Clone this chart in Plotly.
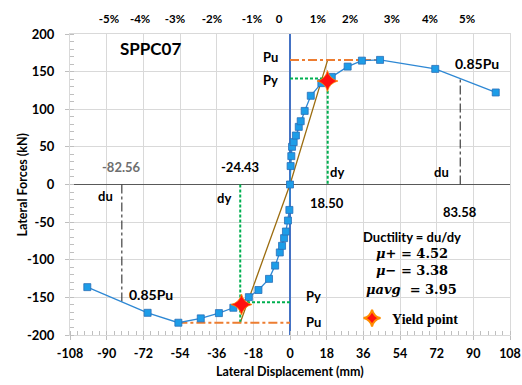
import plotly.graph_objects as go

# ---- data ----
disp_neg = [-99.5, -69.9, -54.8, -43.8, -34.9, -27.8, -20.2, -15.5, -10.3, -7.3,
            -5.0, -3.9, -2.9, -2.0, -1.0, -0.3]
force_neg = [-136.4, -170.5, -183.7, -177.9, -170.9, -163.8, -149.7, -140.2, -125.4, -107.8,
             -90.3, -81.5, -71.3, -62.5, -47.9, -33.8]
disp_pos = [0.0, 0.3, 0.65, 1.0, 1.8, 2.9, 4.3, 5.25, 7.2, 10.2, 15.4, 20.5, 28.3,
            35.3, 44.2, 71.3, 101.0]
force_pos = [0.0, 24.5, 37.7, 50.1, 56.3, 65.1, 76.6, 84.1, 97.8, 117.9, 134.7, 143.0,
             156.7, 164.6, 165.6, 153.6, 122.3]

dy_pos, dy_neg = 18.50, -24.43
du_pos, du_neg = 83.58, -82.56
pu_pos, pu_neg = 165.6, -183.7
py_pos, py_neg = 140.8, -156.6
d_pu_pos, d_pu_neg = 44.2, -54.8
yield_x = [18.4, -23.8]
yield_y = [137.5, -159.5]

drift_pos = [-88.9, -73.6, -56.5, -38.3, -18.7, -5.4, 13.7, 29.5, 50.0, 68.7, 86.9]
drift_labels = ["-5%", "-4%", "-3%", "-2%", "-1%", "0", "1%", "2%", "3%", "4%", "5%"]

x_ticks = [-108, -90, -72, -54, -36, -18, 0, 18, 36, 54, 72, 90, 108]
y_ticks = [-200, -150, -100, -50, 0, 50, 100, 150, 200]

FONT = "Lato"
fig = go.Figure()

# bilinear idealisation
fig.add_trace(go.Scatter(x=[dy_neg, 0, dy_pos], y=[pu_neg, 0, pu_pos], mode="lines",
                         line=dict(color="#9C6D10", width=1.3), showlegend=False, hoverinfo="skip"))
# green dotted dy/Py lines
fig.add_trace(go.Scatter(x=[0, dy_pos, dy_pos, None, 0, dy_neg, None, dy_neg, dy_neg],
                         y=[py_pos, py_pos, 0, None, py_neg, py_neg, None, 0, pu_neg],
                         mode="lines", line=dict(color="#00B050", width=2, dash="3px,2px"),
                         showlegend=False, hoverinfo="skip"))
# orange Pu lines
fig.add_trace(go.Scatter(x=[0, d_pu_pos, None, d_pu_neg, 0],
                         y=[pu_pos, pu_pos, None, pu_neg, pu_neg],
                         mode="lines", line=dict(color="#ED7D31", width=2, dash="dashdot"),
                         showlegend=False, hoverinfo="skip"))
# du lines
fig.add_trace(go.Scatter(x=[du_pos, du_pos, None, du_neg, du_neg],
                         y=[0, py_pos, None, 0, py_neg],
                         mode="lines", line=dict(color="#404040", width=1.2, dash="dashdot"),
                         showlegend=False, hoverinfo="skip"))
# envelope
fig.add_trace(go.Scatter(x=disp_neg + disp_pos, y=force_neg + force_pos, mode="lines+markers",
                         line=dict(color="#2E88D4", width=1.3),
                         marker=dict(symbol="square", size=7, color="#1D9DE8",
                                     line=dict(color="#2A6FB8", width=0.8)),
                         showlegend=False))
# yield points
fig.add_trace(go.Scatter(x=yield_x, y=yield_y, mode="markers", name="Yield point",
                         marker=dict(symbol="star-diamond", size=15, color="#FF1010",
                                     line=dict(color="#FF8C00", width=0.8)),
                         showlegend=True))
# dummy trace for top axis
fig.add_trace(go.Scatter(x=[None], y=[None], xaxis="x2", showlegend=False, hoverinfo="skip"))

bold = dict(family=FONT, size=13, color="#000000", weight="bold")

fig.update_layout(
    width=522, height=385,
    margin=dict(l=70, r=12, t=34, b=50, autoexpand=False),
    paper_bgcolor="white", plot_bgcolor="white",
    font=dict(family=FONT, size=13, color="#000000"),
    xaxis=dict(range=[-108, 108], tickvals=x_ticks, ticktext=[str(v) for v in x_ticks],
               automargin=False,
               showgrid=True, gridcolor="#D9D9D9", gridwidth=1,
               zeroline=True, zerolinecolor="#4472C4", zerolinewidth=2,
               showline=True, linecolor="#D9D9D9", linewidth=1, mirror=True,
               ticks="outside", ticklen=4, tickcolor="#BFBFBF",
               minor=dict(dtick=3.6, ticks="inside", ticklen=4, tickcolor="#BFBFBF", showgrid=False),
               tickfont=dict(family=FONT, size=12.5, weight="bold"), ticklabelstandoff=3),
    xaxis2=dict(range=[-108, 108], overlaying="x", side="top", tickvals=drift_pos,
                automargin=False,
                ticktext=drift_labels, showgrid=False, zeroline=False, showline=False, ticks="",
                tickfont=dict(family=FONT, size=11.5, weight="bold"), ticklabelstandoff=8),
    yaxis=dict(range=[-200, 200], tickvals=y_ticks, ticktext=[str(v) for v in y_ticks],
               automargin=False,
               showgrid=True, gridcolor="#D9D9D9", gridwidth=1,
               zeroline=True, zerolinecolor="#595959", zerolinewidth=1,
               showline=True, linecolor="#D9D9D9", linewidth=1, mirror=True,
               ticks="outside", ticklen=4, tickcolor="#BFBFBF",
               minor=dict(dtick=10, ticks="inside", ticklen=4, tickcolor="#BFBFBF", showgrid=False),
               tickfont=dict(family=FONT, size=13, weight="bold"), ticklabelstandoff=8),
    legend=dict(x=0.641, y=0.055, xanchor="left", yanchor="middle", bgcolor="rgba(0,0,0,0)",
                font=dict(family="Liberation Serif", size=14, weight="bold"), itemsizing="constant"),
    showlegend=True,
)

# white box behind ductility text
fig.add_shape(type="rect", xref="paper", yref="paper", x0=0.632, x1=0.925, y0=0.112, y1=0.376,
              fillcolor="white", line=dict(width=0), layer="between")

ann = []
def add(text, x, y, font=None, **kw):
    ann.append(dict(text=text, x=x, y=y, xref="x", yref="y", showarrow=False,
                    font=font or bold, **kw))

add("SPPC07", -68.7, 180.5, dict(family=FONT, size=17, weight="bold", color="#000"))
add("Pu", -9.5, 169.2)
add("Py", -9.5, 139.3)
add("0.85Pu", 91.6, 160.5, dict(family=FONT, size=14, weight="bold", color="#000"))
add("-82.56", -82.6, 23.6, dict(family=FONT, size=13, weight="bold", color="#6E6E6E"))
add("-24.43", -24.5, 23.6)
add("du", -90.8, -14.8)
add("dy", -32.3, -18.3)
add("dy", 23.2, 17.0)
add("18.50", 18.0, -24.1)
add("du", 74.5, 17.0)
add("83.58", 83.5, -36.0)
add("0.85Pu", -68.4, -146.4, dict(family=FONT, size=14, weight="bold", color="#000"))
add("Py", 11.4, -148.6)
add("Pu", 11.4, -182.5)
add("Ductility = du/dy", 59.7, -69.1)
mu_font = dict(family="DejaVu Serif", size=13, weight="bold", color="#000")
add("<i>μ</i>+ = 4.52", 59.7, -91.1, mu_font)
add("<i>μ</i>− = 3.38", 59.7, -114.6, mu_font)
add("<i>μavg</i>  = 3.95", 59.7, -139.7, mu_font)

# axis titles
ann.append(dict(text="Lateral Displacement (mm)", x=0.5, y=-0.12, xref="paper", yref="paper",
                yanchor="middle", showarrow=False, font=dict(family=FONT, size=12.5, weight="bold")))
ann.append(dict(text="Lateral Forces (kN)", x=-0.109, y=0.5, xref="paper", yref="paper",
                xanchor="center", yanchor="middle", textangle=-90, showarrow=False,
                font=dict(family=FONT, size=12.5, weight="bold")))
fig.update_layout(annotations=ann)

fig.write_html("out.html")
